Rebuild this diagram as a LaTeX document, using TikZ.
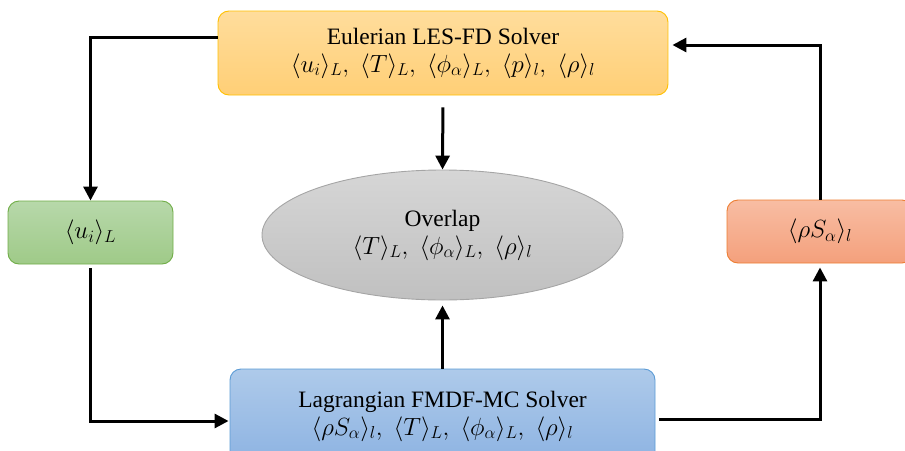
\documentclass[tikz,border=0pt]{standalone}
\usepackage{fontspec}
\setmainfont{Liberation Serif}
\usetikzlibrary{shapes.geometric,arrows.meta}
\definecolor{orbd}{HTML}{FFC000}
\definecolor{ortop}{HTML}{FFDD9C}
\definecolor{orbot}{HTML}{FFCF76}
\definecolor{grbd}{HTML}{70AD47}
\definecolor{grtop}{HTML}{B7D8AA}
\definecolor{grbot}{HTML}{9FCA88}
\definecolor{rdbd}{HTML}{ED7D31}
\definecolor{rdtop}{HTML}{F8BDA3}
\definecolor{rdbot}{HTML}{F4A07C}
\definecolor{blbd}{HTML}{5B9BD5}
\definecolor{bltop}{HTML}{AECAEA}
\definecolor{blbot}{HTML}{8DB3E2}
\definecolor{gybd}{HTML}{A5A5A5}
\definecolor{gytop}{HTML}{D6D6D6}
\definecolor{gybot}{HTML}{C0C0C0}
\newcommand{\bigmath}[1]{{\fontsize{25}{26}\selectfont$#1$}}
\tikzset{
  boxbase/.style={rectangle, rounded corners=11pt, line width=0.9pt, align=center,
    font=\fontsize{23.5}{26}\selectfont, inner sep=0pt},
  orbox/.style={boxbase, draw=orbd, top color=ortop, bottom color=orbot},
  grbox/.style={boxbase, draw=grbd, top color=grtop, bottom color=grbot},
  rdbox/.style={boxbase, draw=rdbd, top color=rdtop, bottom color=rdbot},
  blbox/.style={boxbase, draw=blbd, top color=bltop, bottom color=blbot},
  ovl/.style={ellipse, line width=0.9pt, draw=gybd, top color=gytop, bottom color=gybot,
    align=center, font=\fontsize{23.5}{26}\selectfont, inner sep=0pt},
  arr/.style={line width=3pt, -{Triangle[length=14pt,width=14pt]}}
}
\begin{document}
\begin{tikzpicture}[x=1pt,y=-1pt]
\useasboundingbox (0,0) rectangle (905,450);
\node[orbox, minimum width=450pt, minimum height=84pt] (top) at (443,53)
  {Eulerian LES-FD Solver\\[2pt] \bigmath{\langle u_i\rangle_L,\; \langle T\rangle_L,\; \langle \phi_\alpha\rangle_L,\; \langle p\rangle_l,\; \langle \rho\rangle_l}};
\node[grbox, minimum width=165pt, minimum height=63pt] (green) at (90.5,232.5)
  {\bigmath{\langle u_i\rangle_L}};
\node[rdbox, minimum width=186pt, minimum height=63pt] (red) at (820,231.5)
  {\bigmath{\langle \rho S_\alpha\rangle_l}};
\node[blbox, minimum width=425pt, minimum height=94pt] (blue) at (442.5,416)
  {Lagrangian FMDF-MC Solver\\[2pt] \bigmath{\langle \rho S_\alpha\rangle_l,\; \langle T\rangle_L,\; \langle \phi_\alpha\rangle_L,\; \langle \rho\rangle_l}};
\node[ovl, minimum width=361pt, minimum height=130pt] (ov) at (442.5,235)
  {Overlap\\[2pt] \bigmath{\langle T\rangle_L,\; \langle \phi_\alpha\rangle_L,\; \langle \rho\rangle_l}};
\draw[arr] ([yshift=15.5pt]top.west) -| (green.north);
\draw[arr, shorten >=4pt] (red.north) |- ([yshift=8pt]top.east);
\draw[arr, shorten <=12pt] (top.south) -- (ov.north);
\draw[arr, shorten >=5pt] (blue.north) -- (ov.south);
\draw[arr, shorten <=4pt, shorten >=1pt] (green.south) |- ([yshift=-5pt]blue.west);
\draw[arr, shorten <=4pt, shorten >=4pt] ([yshift=-3pt]blue.east) -| (red.south);
\end{tikzpicture}
\end{document}
